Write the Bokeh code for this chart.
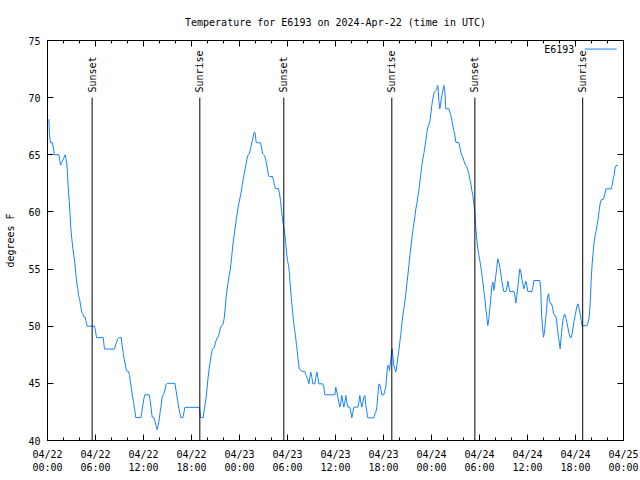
import math
from bokeh.plotting import figure
from bokeh.models import Range1d, FixedTicker, LinearAxis
from bokeh.core.properties import value
from bokeh.embed import file_html
from bokeh.resources import INLINE

# ---------------- data ----------------
title_text = "Temperature for E6193 on 2024-Apr-22 (time in UTC)"
series_name = "E6193"
y_label = "degrees F"

# hours since 2024-04-22 00:00 UTC
hours = [
    0.17, 0.25, 0.375, 0.625, 0.75, 0.875, 1.42, 1.54, 1.625, 1.79, 2.0, 2.125, 2.21, 2.29, 2.42,
    2.5, 2.58, 2.71, 2.83, 2.92, 3.04, 3.17, 3.29, 3.42, 3.54, 3.67, 3.79, 3.875, 4.04, 4.17,
    4.29, 4.42, 4.54, 4.71, 4.83, 4.96, 5.875, 6.0, 6.125, 6.96, 7.125, 8.375, 8.58, 8.79, 8.96,
    9.21, 9.33, 9.46, 9.58, 9.71, 9.875,
    10.125, 10.25, 10.375, 10.5, 10.625, 10.75, 10.875, 11.04, 11.67, 11.79, 11.92, 12.04, 12.17,
    12.71, 12.83, 12.96, 13.08, 13.33, 13.46, 13.58, 13.71, 13.83, 13.96, 14.08, 14.21, 14.33,
    14.46, 14.58, 14.71, 14.83, 14.96, 15.92, 16.04, 16.17, 16.29, 16.42, 16.58, 16.67, 16.92,
    17.04, 17.17, 18.92, 19.04,
    19.125, 19.46, 19.58, 19.71, 19.83, 19.96, 20.08, 20.21, 20.33, 20.46, 20.58, 20.71, 20.83,
    20.96, 21.08, 21.21, 21.33, 21.46, 21.58, 21.71, 21.83, 21.96, 22.08, 22.21, 22.33, 22.46,
    22.58, 22.71, 22.83, 22.96, 23.08, 23.21, 23.33, 23.46, 23.58, 23.71, 23.83, 23.96, 24.08,
    24.21, 24.33, 24.46, 24.58, 24.71, 24.83, 24.96, 25.08, 25.21, 25.33, 25.46, 25.58, 25.71,
    25.83, 25.96, 26.08, 26.21, 26.625, 26.75, 26.875, 27.0, 27.125, 27.25, 27.375, 27.5, 27.625,
    27.75, 28.125, 28.25, 28.375, 28.5, 28.875, 29.0, 29.125, 29.25, 29.375, 29.5, 29.625, 29.75,
    29.875, 30.0, 30.125, 30.25,
    30.29, 30.375, 30.46, 30.54, 30.625, 30.71, 30.79, 30.875, 30.96, 31.04, 31.125, 31.21, 31.29,
    31.375, 31.46, 31.83, 32.17, 32.33, 32.5, 32.67, 32.79, 32.92, 33.04, 33.17, 33.42, 33.54,
    33.67, 33.79, 33.92, 34.42, 34.54, 34.67, 35.92, 36.04, 36.17, 36.29, 36.42, 36.54, 36.67,
    36.79, 36.92, 37.04, 37.17, 37.29, 37.42, 37.54, 37.79, 37.92, 38.04, 38.17, 38.29, 38.79,
    38.92, 39.04, 39.17, 39.29, 39.42, 39.54, 39.67, 39.79, 39.92, 40.04, 40.79, 40.92, 41.04,
    41.17, 41.29, 41.42, 41.54, 41.67, 41.79, 42.04, 42.17, 42.29,
    42.375, 42.5, 42.625, 42.75, 42.875, 43.0, 43.08, 43.17, 43.29, 43.42, 43.54, 43.67, 43.79,
    43.92, 44.04, 44.17, 44.29, 44.42, 44.54, 44.67, 44.79, 44.92, 45.04, 45.17, 45.29, 45.42,
    45.54, 45.67, 45.79, 45.92, 46.04, 46.17, 46.29, 46.42, 46.54, 46.67, 46.79, 46.92, 47.04,
    47.17, 47.29, 47.42, 47.54, 47.67, 47.79, 47.92, 48.04, 48.17, 48.29, 48.42, 48.54, 48.67,
    48.79, 48.92, 49.04, 49.17, 49.29, 49.42, 49.54, 49.67, 49.79, 50.17, 50.29, 50.42, 50.54,
    50.67, 50.79, 50.92, 51.04, 51.42, 51.54, 51.67, 51.79, 51.92, 52.04, 52.17, 52.29, 52.42,
    52.54, 52.67, 52.79, 52.92, 53.04, 53.17, 53.29, 53.42,
    53.54, 53.67, 53.79, 53.92, 54.04, 54.17, 54.29, 54.42, 54.54, 54.67, 54.79, 54.92, 55.04,
    55.17, 55.29, 55.42, 55.54, 55.67, 55.79, 55.92, 56.04, 56.17, 56.29, 56.42, 56.54, 56.67,
    56.79, 56.92, 57.04, 57.29, 57.42, 57.54, 57.67, 57.79, 58.29, 58.42, 58.54, 58.67, 58.79,
    58.92, 59.04, 59.17, 59.29, 59.42, 59.54, 59.67, 59.79, 59.92, 60.04, 60.54, 60.67, 60.79,
    61.54, 61.67, 61.75, 61.875, 62.0, 62.125, 62.25, 62.375, 62.5,
    62.625, 62.75, 62.875, 63.0, 63.125, 63.25, 63.375, 63.5, 63.625, 63.75, 63.875, 64.0, 64.08,
    64.21, 64.33, 64.46, 64.58, 64.71, 64.83, 64.96, 65.08, 65.21, 65.33, 65.46, 65.58, 65.71,
    65.83, 65.96, 66.08, 66.21, 66.33, 66.46, 66.58, 66.71, 66.83, 67.46, 67.58, 67.71, 67.83,
    67.96, 68.08, 68.21, 68.33, 68.46, 68.58, 68.71, 68.83, 68.96, 69.08, 69.21, 69.33, 69.46,
    69.58, 69.71, 69.83, 70.46, 70.58, 70.71, 70.83, 70.96, 71.08, 71.29,
]

temps = [
    68.1, 66.7, 66.05, 66.05, 65.5, 65.0, 65.0, 64.5, 64.1, 64.35, 64.65, 64.9, 65.0, 64.7, 64.2,
    63.3, 62.2, 61.0, 59.7, 58.5, 57.65, 56.8, 56.2, 55.5, 54.6, 53.7, 53.3, 52.7, 52.25, 51.7,
    51.2, 51.1, 50.8, 50.8, 50.4, 50.0, 50.0, 49.6, 49.0, 49.0, 48.0, 48.0, 48.5, 48.9, 49.0,
    49.0, 48.3, 47.7, 47.15, 46.7, 46.1,
    46.04, 45.7, 45.1, 44.5, 43.8, 43.4, 42.8, 42.0, 42.0, 42.5, 43.1, 43.65, 44.0,
    44.0, 43.5, 42.8, 42.05, 41.96, 41.6, 41.3, 40.94, 41.3, 41.8, 42.5, 43.07, 43.8,
    44.0, 44.15, 44.5, 44.9, 45.0, 45.0, 44.5, 43.9, 43.4, 42.8, 42.3, 42.0, 42.0,
    42.4, 42.9, 42.9, 42.7,
    42.0, 42.0, 42.63, 43.21, 43.8, 44.67, 45.55, 46.28, 46.86, 47.44, 47.94, 48.02, 48.11,
    48.46, 48.75, 48.96, 49.05, 49.34, 49.77, 50.0, 50.07, 50.21, 50.65, 51.52, 52.54, 53.27,
    53.86, 54.44, 54.88, 55.61, 56.48, 57.36, 57.94, 58.67, 59.25, 59.84, 60.42, 60.86, 61.29,
    61.73, 62.31, 62.81, 63.34, 63.77, 64.21, 64.71, 65.0, 65.09, 65.38, 65.81, 66.19, 66.54,
    66.98, 66.89, 66.1, 66.05, 66.05, 65.67, 65.14, 65.03, 64.94, 64.65, 64.21, 63.77, 63.16,
    63.1, 63.1, 62.75, 62.31, 62.05, 62.05, 61.59, 61.0, 60.13, 59.4, 58.81, 58.23, 57.5,
    56.48, 55.75, 55.32, 54.59,
    54.0, 53.42, 52.54, 51.96, 51.38, 50.79, 50.21, 49.77, 49.33, 48.9, 48.31, 47.88, 47.29,
    46.86, 46.27, 46.04, 46.04, 45.69, 45.4, 44.96, 45.54, 45.98, 45.54, 44.96, 44.96, 45.54,
    45.98, 45.54, 44.96, 44.96, 44.67, 44.0, 44.0, 44.67, 44.23, 43.79, 43.36, 42.92, 43.36,
    43.94, 43.36, 42.92, 43.36, 43.94, 43.36, 42.92, 42.92, 42.48, 41.98, 42.48, 42.92, 42.92,
    43.36, 43.94, 43.36, 42.92, 43.36, 43.79, 43.94, 43.06, 42.48, 41.98, 41.98, 42.33, 42.48,
    42.92, 43.94, 44.96, 44.87, 44.52, 44.0, 44.0, 44.38, 44.67,
    45.5, 46.5, 46.6, 46.13, 46.86, 47.73, 48.03, 47.44, 46.57, 46.28, 45.98, 46.57, 47.3,
    47.88, 48.61, 49.34, 50.21, 50.94, 51.53, 52.11, 52.84, 53.71, 54.44, 55.32, 56.19, 56.92,
    57.65, 58.38, 58.96, 59.55, 60.27, 60.71, 61.3, 61.88, 62.61, 63.34, 64.07, 64.65, 65.09,
    65.67, 66.25, 66.98, 67.42, 67.62, 67.86, 68.59, 69.32, 69.9, 70.34, 70.54, 70.63, 70.77,
    71.06, 69.75, 69.02, 69.61, 70.19, 70.63, 71.06, 70.48, 69.02, 69.02, 68.73, 68.44, 68.0,
    67.57, 67.13, 66.69, 66.11, 66.05, 65.67, 65.23, 64.94, 64.8, 64.5, 64.21, 64.07, 63.92,
    63.63, 63.34, 62.9, 62.46, 61.88, 61.44, 60.71, 59.98,
    58.52, 57.5, 56.77, 56.19, 55.75, 55.17, 54.58, 53.86, 53.13, 52.4, 51.52, 50.79, 50.06,
    50.65, 51.52, 52.54, 53.48, 53.86, 53.13, 53.71, 54.44, 55.17, 55.9, 55.6, 55.17, 54.58,
    54.0, 53.42, 53.04, 53.04, 53.42, 53.94, 53.42, 53.04, 53.04, 52.69, 52.02, 52.69, 53.42,
    54.29, 55.02, 54.73, 54.15, 53.71, 53.27, 53.56, 53.94, 53.56, 53.04, 53.04, 53.42, 54.0,
    54.0, 53.13, 51.08, 49.92, 49.04, 49.48, 50.5, 51.38, 52.54,
    52.84, 52.25, 51.96, 51.96, 51.67, 51.14, 50.94, 50.94, 50.65, 49.63, 49.04, 48.46, 48.02,
    49.04, 49.92, 50.65, 51.0, 51.0, 50.65, 50.21, 49.77, 49.34, 49.0, 49.0, 49.34, 49.92,
    50.5, 50.94, 51.38, 51.82, 51.96, 51.52, 51.08, 50.5, 50.04, 50.04, 50.36, 50.8, 51.96,
    54.0, 55.46, 56.48, 57.36, 57.94, 58.38, 58.9, 59.4, 60.13, 60.71, 61.06, 61.09, 61.09,
    61.29, 61.73, 62.02, 62.02, 62.31, 62.9, 63.19, 63.98, 64.06, 64.06,
]

event_hours = [5.58, 19.04, 29.54, 43.04, 53.42, 66.9]
event_names = ["Sunset", "Sunrise", "Sunset", "Sunrise", "Sunset", "Sunrise"]
event_top = 70

x_ticks = [0, 6, 12, 18, 24, 30, 36, 42, 48, 54, 60, 66, 72]
x_tick_labels = [
    "04/22\n00:00", "04/22\n06:00", "04/22\n12:00", "04/22\n18:00",
    "04/23\n00:00", "04/23\n06:00", "04/23\n12:00", "04/23\n18:00",
    "04/24\n00:00", "04/24\n06:00", "04/24\n12:00", "04/24\n18:00",
    "04/25\n00:00",
]
x_minor_ticks = list(range(0, 73, 2))
y_ticks = [40, 45, 50, 55, 60, 65, 70, 75]

# ---------------- style ----------------
FONT = "DejaVu Sans Mono"
FS = "10px"
LINE_COLOR = "#1482ff"

p = figure(width=640, height=480,
           x_range=Range1d(0, 72), y_range=Range1d(40, 75),
           output_backend="svg", toolbar_location=None,
           min_border_left=47, min_border_right=17,
           min_border_top=40, min_border_bottom=40)

p.title.text = title_text
p.title.align = "center"
p.title.vertical_align = "top"
p.title.text_font = FONT
p.title.text_font_size = FS
p.title.text_font_style = "normal"
p.title.text_color = "black"
p.title.standoff = 22

p.xgrid.visible = False
p.ygrid.visible = False
p.outline_line_color = "black"
p.outline_line_alpha = 1
p.background_fill_color = "white"
p.border_fill_color = "white"

# bottom axis
xa = p.xaxis[0]
xa.ticker = FixedTicker(ticks=x_ticks, minor_ticks=x_minor_ticks)
xa.major_label_overrides = {t: lab for t, lab in zip(x_ticks, x_tick_labels)}
xa.major_tick_in = 6
xa.major_tick_out = 0
xa.minor_tick_in = 3
xa.minor_tick_out = 0
xa.major_label_standoff = 8
xa.major_label_text_font = FONT
xa.major_label_text_font_size = FS
xa.major_label_text_color = "black"
xa.axis_line_color = "black"
xa.major_tick_line_color = "black"
xa.minor_tick_line_color = "black"

# left axis
ya = p.yaxis[0]
ya.ticker = FixedTicker(ticks=y_ticks, minor_ticks=[])
ya.major_tick_in = 6
ya.major_tick_out = 0
ya.minor_tick_in = 0
ya.minor_tick_out = 0
ya.major_label_standoff = 7
ya.major_label_text_font = FONT
ya.major_label_text_font_size = FS
ya.major_label_text_color = "black"
ya.axis_label = y_label
ya.axis_label_text_font = FONT
ya.axis_label_text_font_size = FS
ya.axis_label_text_font_style = "normal"
ya.axis_label_text_color = "black"
ya.axis_label_standoff = 9
ya.axis_line_color = "black"

# mirrored axes (ticks only)
top = LinearAxis(ticker=FixedTicker(ticks=x_ticks, minor_ticks=x_minor_ticks),
                 major_label_overrides={t: "" for t in x_ticks},
                 major_tick_in=6, major_tick_out=0, minor_tick_in=3, minor_tick_out=0,
                 major_label_standoff=0, major_label_text_font_size="1px",
                 axis_line_color="black")
p.add_layout(top, "above")
right = LinearAxis(ticker=FixedTicker(ticks=y_ticks, minor_ticks=[]),
                   major_label_overrides={t: "" for t in y_ticks},
                   major_tick_in=6, major_tick_out=0, minor_tick_in=0, minor_tick_out=0,
                   major_label_standoff=0, major_label_text_font_size="1px",
                   axis_line_color="black")
p.add_layout(right, "right")

# data line
p.line(hours, temps, line_color=LINE_COLOR, line_width=1)

# sunrise / sunset markers
p.segment(x0=event_hours, y0=[40] * len(event_hours), x1=event_hours,
          y1=[event_top] * len(event_hours), line_color="black", line_width=1)
p.text(x=event_hours, y=[event_top + 0.45] * len(event_hours), text=event_names,
       angle=math.pi / 2, text_align="left", text_baseline="middle",
       text_font=value(FONT), text_font_size=FS, text_color="black")

# legend (text then sample line, as in the reference)
legend_y = 74.25
p.text(x=[65.85], y=[legend_y], text=[series_name], text_align="right",
       text_baseline="middle", text_font=value(FONT), text_font_size=FS, text_color="black")
p.segment(x0=[67.15], y0=[legend_y], x1=[71.15], y1=[legend_y],
          line_color=LINE_COLOR, line_width=1)

open("out.html", "w").write(file_html(p, INLINE))
